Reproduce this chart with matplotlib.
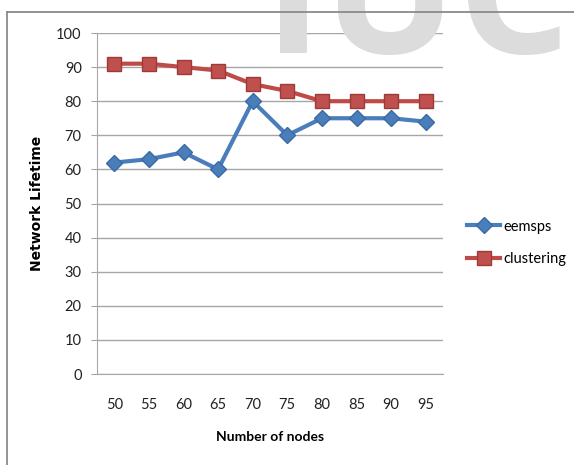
import matplotlib
matplotlib.use('Agg')
import matplotlib.pyplot as plt
from matplotlib.lines import Line2D

# values
nodes = [50, 55, 60, 65, 70, 75, 80, 85, 90, 95]
eemsps = [62, 63, 65, 60, 80, 70, 75, 75, 75, 74]
clustering = [91, 91, 90, 89, 85, 83, 80, 80, 80, 80]

plt.rcParams['font.family'] = ['Lato', 'DejaVu Sans']

fig = plt.figure(figsize=(5.74, 4.65), dpi=100)

# faint watermark behind everything
fig.text(264/574, 1 - 53/465, 'IUC', fontsize=128, family='Open Sans', fontweight='bold',
         color='#dcdcdc', va='baseline', ha='left', zorder=0)

# outer chart border (runs off right and bottom)
fig.add_artist(Line2D([7/574, 7/574], [0, 1 - 12/465], color='#8a8a8a', lw=1.3, zorder=1))
fig.add_artist(Line2D([7/574, 1], [1 - 12/465, 1 - 12/465], color='#8a8a8a', lw=1.3, zorder=1))

ax = fig.add_axes([97/574, 91/465, 346/574, 341/465])
ax.patch.set_alpha(0)
x = list(range(len(nodes)))

ax.plot(x, eemsps, color='#4a7ebb', lw=3, marker='D', markersize=8.5,
        markerfacecolor='#4a7ebb', markeredgecolor='#3b6aa3', label='eemsps', zorder=3)
ax.plot(x, clustering, color='#be4b48', lw=3, marker='s', markersize=9.5,
        markerfacecolor='#c0504d', markeredgecolor='#9c3b38', label='clustering', zorder=4)

ax.set_xlim(-0.5, len(nodes) - 0.5)
ax.set_ylim(0, 100)
ax.set_yticks(range(0, 101, 10))
ax.set_xticks(x)
ax.set_xticklabels([str(n) for n in nodes])
ax.yaxis.grid(True, color='#a6a6a6', lw=1)
ax.set_axisbelow(True)

for s in ['top', 'right']:
    ax.spines[s].set_visible(False)
ax.spines['left'].set_color('#a6a6a6')
ax.spines['bottom'].set_color('#a6a6a6')
ax.tick_params(axis='y', length=4, color='#a6a6a6', pad=7, labelsize=10.5, labelcolor='#222222')
ax.tick_params(axis='x', length=0, pad=17, labelsize=10.5, labelcolor='#222222')

ax.set_xlabel('Number of nodes', fontsize=10, fontweight='bold', labelpad=14)
ax.set_ylabel('Network Lifetime', fontsize=10, fontweight='bold', family='DejaVu Sans')
ax.yaxis.set_label_coords(-0.152, 0.5)

fig.legend(loc='center left', bbox_to_anchor=(461/574, 1 - 243/465), frameon=False,
           fontsize=10.5, handlelength=2.3, handletextpad=0.2, labelspacing=1.3,
           borderaxespad=0)

fig.savefig('out.png', dpi=100)
